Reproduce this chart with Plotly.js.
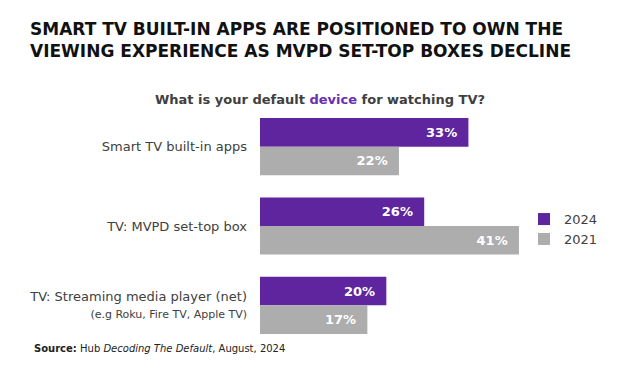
<!DOCTYPE html>
<html>
<head>
<meta charset="utf-8">
<script src="https://cdn.plot.ly/plotly-3.0.1.min.js"></script>
<style>html,body{margin:0;padding:0;background:#fff;}#chart{width:640px;height:387px;}</style>
</head>
<body>
<div id="chart"></div>
<script>
const categories = [
  "Smart TV built-in apps",
  "TV: MVPD set-top box",
  "TV: Streaming media player (net)<br><span style='font-size:11px'>(e.g Roku, Fire TV, Apple TV)</span>"
];
const values2024 = [33, 26, 20];
const values2021 = [22, 41, 17];
const seriesNames = ["2024", "2021"];
const PURPLE = "#5F259F";
const GRAY = "#ADADAD";

function labels(v) { return v.map(x => "<b>" + x + "%</b>\u00a0\u00a0"); }

const traces = [
  {type: "bar", orientation: "h", name: seriesNames[0], y: categories, x: values2024,
   marker: {color: PURPLE}, text: labels(values2024), textposition: "inside", insidetextanchor: "end",
   textfont: {color: "#fff", size: 13, family: "DejaVu Sans"}, hoverinfo: "skip", cliponaxis: false},
  {type: "bar", orientation: "h", name: seriesNames[1], y: categories, x: values2021,
   marker: {color: GRAY}, text: labels(values2021), textposition: "inside", insidetextanchor: "end",
   textfont: {color: "#fff", size: 13, family: "DejaVu Sans"}, hoverinfo: "skip", cliponaxis: false}
];

const layout = {
  width: 640, height: 387,
  margin: {l: 260, r: 80, t: 107, b: 42},
  paper_bgcolor: "#fff", plot_bgcolor: "#fff",
  barmode: "group", bargap: 0.28, bargroupgap: 0,
  font: {family: "DejaVu Sans", color: "#404040"},
  title: {
    text: "<b>SMART TV BUILT-IN APPS ARE POSITIONED TO OWN THE<br>VIEWING EXPERIENCE AS MVPD SET-TOP BOXES DECLINE</b>",
    font: {family: "DejaVu Sans", size: 17, color: "#111"},
    x: 30/640, xanchor: "left", xref: "container",
    y: 1 - 35/387, yanchor: "top", yref: "container"
  },
  xaxis: {range: [0, 47.5], visible: false, fixedrange: true},
  yaxis: {autorange: "reversed", showgrid: false, showline: false, zeroline: false,
          ticks: "", ticklabelstandoff: 12, tickfont: {size: 13, color: "#404040", family: "DejaVu Sans"}},
  legend: {x: 0.88, y: 0.487, xanchor: "left", yanchor: "middle", traceorder: "normal",
           font: {size: 13, color: "#404040", family: "DejaVu Sans"}, bgcolor: "rgba(0,0,0,0)"},
  showlegend: true,
  annotations: [
    {xref: "paper", yref: "paper", x: 0.2, y: 1.03, xanchor: "center", yanchor: "middle", showarrow: false,
     text: "<b>What is your default <span style='color:#6A2EB0'>device</span> for watching TV?</b>",
     font: {size: 13, color: "#404040", family: "DejaVu Sans"}},
    {xref: "paper", yref: "paper", x: -0.76, y: -0.014, xanchor: "left", yanchor: "middle", showarrow: false,
     text: "<b>Source:</b> Hub <i>Decoding The Default</i>, August, 2024",
     font: {size: 10, color: "#222", family: "DejaVu Sans"}}
  ]
};

Plotly.newPlot("chart", traces, layout, {displayModeBar: false, staticPlot: true});
</script>
</body>
</html>
